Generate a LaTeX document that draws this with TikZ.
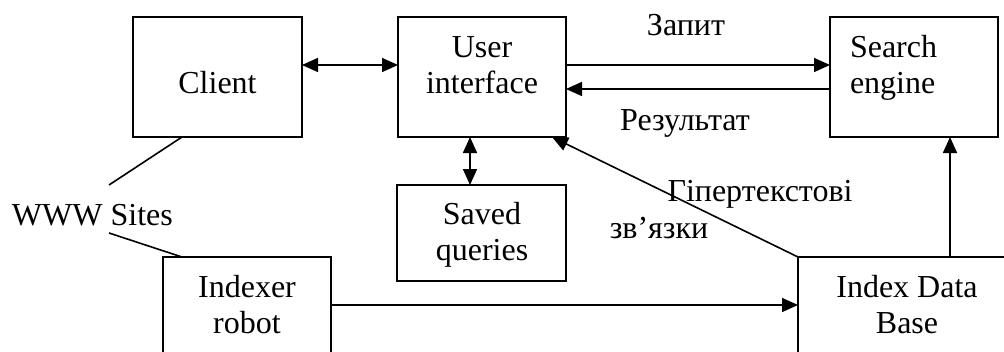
\documentclass[tikz,border=0pt]{standalone}
\usepackage{fontspec}
\setmainfont{Liberation Serif}
\usetikzlibrary{arrows.meta,calc}
\begin{document}
\begin{tikzpicture}[x=1pt,y=-1pt,
  every node/.style={font=\fontsize{32}{36}\selectfont, inner sep=0pt, outer sep=0pt},
  box/.style={draw, line width=1.6pt, rectangle, minimum width=168pt},
  tall/.style={box, minimum height=120pt},
  low/.style={box, minimum height=96pt},
  txt/.style={align=center, anchor=base},
  conn/.style={line width=1.6pt},
  arr/.style={conn, -{Triangle[length=16pt,width=14pt]}},
  dbl/.style={conn, {Triangle[length=16pt,width=14pt]}-{Triangle[length=16pt,width=14pt]}}]
  \useasboundingbox (0,0) rectangle (1004,351);
  \clip (0,0) rectangle (1004,351);

  % boxes
  \node[tall, minimum width=169pt] (client) at (217.5,77) {};
  \node[tall] (ui) at (482,77) {};
  \node[tall] (search) at (914,77) {};
  \node[low, minimum width=169pt] (saved) at (481.5,233) {};
  \node[low] (indexer) at (247,305) {};
  \node[low, minimum width=218pt] (idb) at (907,305) {};

  % box captions (two-line captions sit on the baseline of their last line)
  \node[txt] (tclient) at (217.5,93) {Client};
  \node[txt] (tui) at (482,93) {User\\interface};
  \node[align=left, anchor=base west] (tsearch) at (850,93) {Search\\engine};
  \node[txt] (tsaved) at (482,260) {Saved\\queries};
  \node[txt] (tindexer) at (247,333) {Indexer\\robot};
  \node[txt] (tidb) at (907,333) {Index Data\\Base};

  % free labels
  \node[anchor=base west] (www) at (12,225) {WWW Sites};
  \node[txt] (zapyt) at (686,35) {Запит};
  \node[txt] (rezult) at (685,130) {Результат};
  \node[txt] (hyper) at (760,201) {Гіпертекстові};
  \node[txt] (links) at (659,238) {зв’язки};

  % anchors of the two plain lines at "Sites"
  \coordinate (wtop) at (109,185);
  \coordinate (wbot) at (109,233);
  \coordinate (sx) at ([xshift=36pt]search.south);

  % connectors
  \draw[dbl] ([yshift=12pt]client.east) -- ([yshift=12pt]ui.west);
  \draw[arr] ([yshift=12pt]ui.east) -- ([yshift=12pt]search.west);
  \draw[arr] ([yshift=-12pt]search.west) -- ([yshift=-12pt]ui.east);
  \draw[dbl] ([xshift=-12pt]ui.south) -- ([xshift=-12pt]ui.south |- saved.north);
  \draw[arr] (idb.north west) -- ([xshift=-14pt]ui.south east);
  \draw[arr] (idb.north -| sx) -- (sx);
  \draw[arr] (indexer.east) -- (idb.west);
  \draw[conn] ([xshift=-35.5pt]client.south) -- (wtop);
  \draw[conn] (wbot) -- ([xshift=19pt]indexer.north west);
\end{tikzpicture}
\end{document}
